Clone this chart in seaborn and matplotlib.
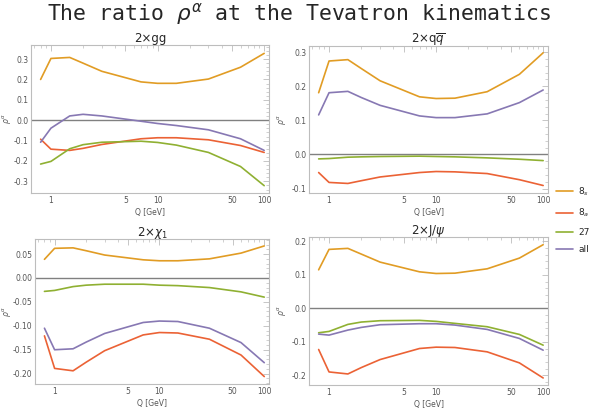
import numpy as np
import pandas as pd
import matplotlib
matplotlib.use("Agg")
import matplotlib.pyplot as plt
import matplotlib.ticker as mticker
from matplotlib.lines import Line2D
import seaborn as sns

# Q values [GeV]
q = [0.8, 1, 1.5, 2, 3, 7, 10, 15, 30, 60, 100]
channels = ["8s", "8a", "27", "all"]
channel_labels = ["$8_s$", "$8_a$", "27", "all"]
colors = ["#E19C24", "#EB6235", "#8FB032", "#8778B3"]

# 2 x gg
gg_8s = [0.200, 0.303, 0.308, 0.280, 0.240, 0.188, 0.181, 0.181, 0.202, 0.260, 0.328]
gg_8a = [-0.093, -0.142, -0.148, -0.138, -0.119, -0.091, -0.086, -0.086, -0.096, -0.124, -0.158]
gg_27 = [-0.215, -0.202, -0.140, -0.120, -0.108, -0.103, -0.109, -0.122, -0.158, -0.227, -0.321]
gg_all = [-0.108, -0.039, 0.021, 0.029, 0.021, -0.005, -0.016, -0.026, -0.047, -0.091, -0.148]

# 2 x q qbar
qq_8s = [0.181, 0.274, 0.278, 0.252, 0.216, 0.169, 0.164, 0.165, 0.184, 0.235, 0.298]
qq_8a = [-0.053, -0.082, -0.085, -0.077, -0.066, -0.053, -0.050, -0.051, -0.056, -0.074, -0.091]
qq_27 = [-0.013, -0.012, -0.008, -0.007, -0.006, -0.005, -0.006, -0.007, -0.010, -0.014, -0.018]
qq_all = [0.116, 0.181, 0.185, 0.167, 0.144, 0.113, 0.108, 0.108, 0.119, 0.152, 0.189]

# 2 x chi_1
chi_8s = [0.039, 0.062, 0.063, 0.057, 0.048, 0.038, 0.036, 0.036, 0.040, 0.052, 0.067]
chi_8a = [-0.121, -0.189, -0.194, -0.176, -0.152, -0.119, -0.114, -0.115, -0.128, -0.161, -0.206]
chi_27 = [-0.028, -0.026, -0.018, -0.015, -0.013, -0.013, -0.015, -0.016, -0.020, -0.029, -0.040]
chi_all = [-0.105, -0.150, -0.148, -0.134, -0.116, -0.093, -0.090, -0.091, -0.105, -0.135, -0.177]

# 2 x J/psi
jpsi_8s = [0.115, 0.176, 0.179, 0.162, 0.138, 0.109, 0.104, 0.105, 0.118, 0.150, 0.190]
jpsi_8a = [-0.123, -0.190, -0.196, -0.177, -0.153, -0.120, -0.116, -0.117, -0.130, -0.163, -0.208]
jpsi_27 = [-0.073, -0.069, -0.048, -0.041, -0.037, -0.036, -0.039, -0.045, -0.055, -0.078, -0.110]
jpsi_all = [-0.077, -0.080, -0.065, -0.057, -0.049, -0.046, -0.046, -0.050, -0.063, -0.090, -0.125]

W, H = 597, 409

# title, series, ylim, major step, minor step, axes rect in pixels (left, top, right, bottom), ylabel x px
panels = [
    ("2×gg", [gg_8s, gg_8a, gg_27, gg_all], (-0.357, 0.369), 0.1, 0.02, (31, 45, 269, 193), 13),
    ("2×q$\\overline{q}$", [qq_8s, qq_8a, qq_27, qq_all], (-0.113, 0.318), 0.1, 0.02, (309, 46, 548, 193), 288),
    ("2×$\\chi_1$", [chi_8s, chi_8a, chi_27, chi_all], (-0.2216, 0.0815), 0.05, 0.01, (35, 239, 269, 384), 13),
    ("2×J/$\\psi$", [jpsi_8s, jpsi_8a, jpsi_27, jpsi_all], (-0.229, 0.213), 0.1, 0.02, (309, 237, 548, 385), 288),
]

sns.set_style("white")
plt.rcParams['font.family'] = ['DejaVu Sans']

fig = plt.figure(figsize=(W / 100, H / 100), dpi=100)
frame_col = "#BDBDBD"
tick_col = "#555555"

for title, series, ylim, major, minor, px, ylab_x in panels:
    l, t, r, b = px
    ax = fig.add_axes([l / W, (H - b) / H, (r - l) / W, (b - t) / H])
    rows = []
    for ch, vals in zip(channels, series):
        for x, y in zip(q, vals):
            rows.append({"Q": x, "rho": y, "channel": ch})
    df = pd.DataFrame(rows)
    ax.axhline(0, color="#808080", lw=1.0, zorder=1)
    sns.lineplot(data=df, x="Q", y="rho", hue="channel", hue_order=channels,
                 palette=colors, lw=1.2, ax=ax, legend=False, zorder=2)
    ax.set_xscale("log")
    ax.set_xlim(0.65, 111)
    ax.set_ylim(*ylim)

    ax.xaxis.set_major_locator(mticker.FixedLocator([1, 5, 10, 50, 100]))
    ax.xaxis.set_major_formatter(mticker.FixedFormatter(["1", "5", "10", "50", "100"]))
    ax.xaxis.set_minor_locator(mticker.LogLocator(base=10, subs=np.arange(2, 10), numticks=10))
    ax.xaxis.set_minor_formatter(mticker.NullFormatter())

    yt = [round(major * k, 3) for k in range(int(np.ceil(ylim[0] / major)), int(np.floor(ylim[1] / major)) + 1)]
    dec = 2 if major < 0.1 else 1
    ax.yaxis.set_major_locator(mticker.FixedLocator(yt))
    ax.yaxis.set_major_formatter(mticker.FixedFormatter([f"{v:.{dec}f}" for v in yt]))
    ax.yaxis.set_minor_locator(mticker.MultipleLocator(minor))

    ax.tick_params(which="both", direction="in", top=True, right=True,
                   color=frame_col, labelsize=5.5, labelcolor=tick_col, pad=2)
    ax.tick_params(which="major", length=4, width=0.6)
    ax.tick_params(which="minor", length=2, width=0.5)
    for s in ax.spines.values():
        s.set_color(frame_col)
        s.set_linewidth(0.8)

    ax.set_title(title, fontsize=8.5, pad=2)
    ax.set_xlabel("Q [GeV]", fontsize=5.5, color=tick_col, labelpad=2)
    ax.set_ylabel("$\\rho^\\alpha$", fontsize=5.5, color=tick_col)
    ax.yaxis.set_label_coords((ylab_x - l) / (r - l), 0.5)

handles = [Line2D([], [], color=c, lw=1.2) for c in colors]
fig.legend(handles, channel_labels, loc="upper left", bbox_to_anchor=(552 / W, 1 - 182 / H),
           frameon=False, fontsize=6.5, handlelength=1.9, handletextpad=0.6,
           labelspacing=0.95, borderaxespad=0)

fig.suptitle("The ratio $\\rho^\\alpha$ at the Tevatron kinematics",
             family="DejaVu Sans Mono", fontsize=15.5, y=0.998)

fig.savefig("out.png", dpi=100)
